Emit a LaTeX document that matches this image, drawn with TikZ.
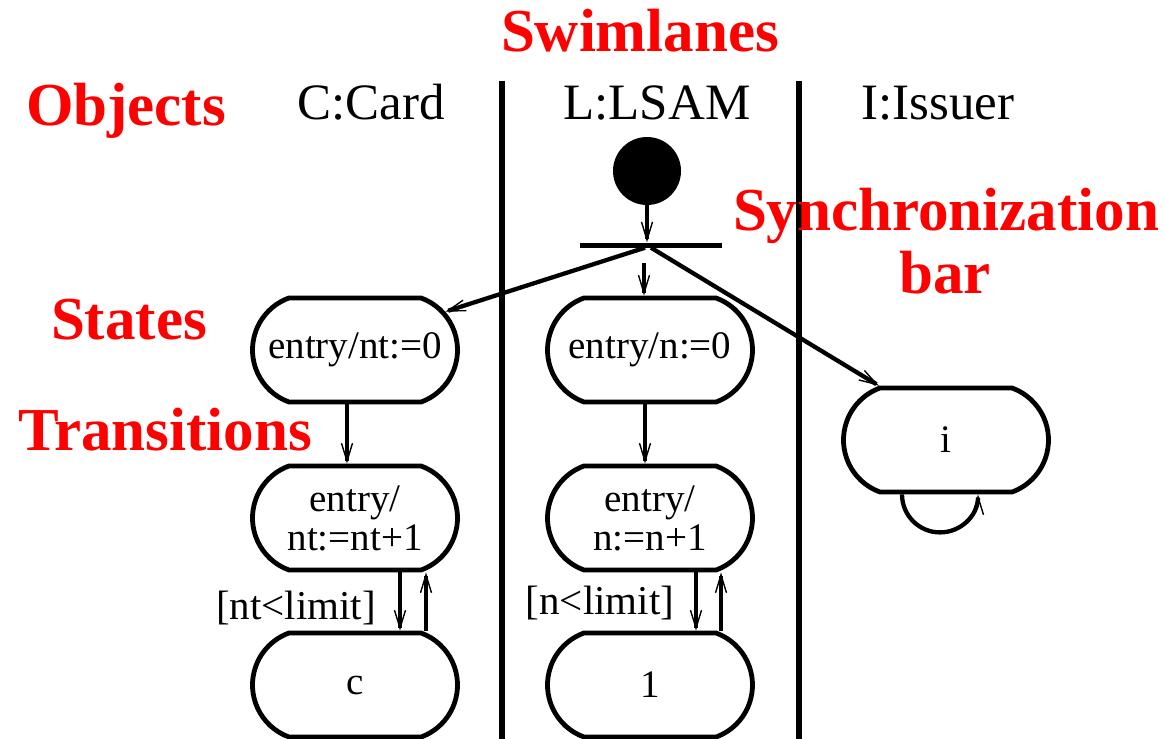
\documentclass[tikz,border=0pt]{standalone}
\usepackage{fontspec}
\setmainfont{Liberation Serif}
\usetikzlibrary{shapes.misc,arrows.meta}
\begin{document}
\begin{tikzpicture}[x=1pt,y=-1pt,
  state/.style={rounded rectangle, rounded rectangle arc length=140, draw, line width=4.8pt,
    minimum width=205pt, minimum height=104pt, inner sep=0pt,
    font=\fontsize{39}{39}\selectfont, align=center},
  arr/.style={line width=4.3pt, -{Straight Barb[length=18pt,width=11pt,line width=1.4pt]}},
  lane/.style={line width=5.5pt},
  redlbl/.style={text=red, font=\fontsize{61}{61}\selectfont\bfseries, anchor=base, inner sep=0pt},
  objlbl/.style={font=\fontsize{51}{51}\selectfont, anchor=base, inner sep=0pt},
  guard/.style={font=\fontsize{41}{41}\selectfont, anchor=base, inner sep=0pt}
]
\useasboundingbox (0,0) rectangle (1165,739);

% swimlane separators
\draw[lane] (502,81) -- (502,739);
\draw[lane] (799,81) -- (799,739);

% red annotation labels
\node[redlbl] (tSwim) at (640,51) {Swimlanes};
\node[redlbl] (tObj) at (126,125) {Objects};
\node[redlbl] (tSync) at (946,230) {Synchronization};
\node[redlbl] (tBar) at (945,293) {bar};
\node[redlbl] (tStates) at (129,339) {States};
\node[redlbl] (tTrans) at (165,450) {Transitions};

% object names
\node[objlbl] (oC) at (371,119) {C:Card};
\node[objlbl] (oL) at (657,119) {L:LSAM};
\node[objlbl] (oI) at (938,119) {I:Issuer};

% initial state and sync bar
\node[circle, fill=black, minimum size=68pt, inner sep=0pt] (init) at (647,171) {};
\node[rectangle, fill=black, minimum width=142pt, minimum height=5pt, inner sep=0pt] (bar) at (651,245) {};

% states
\node[state] (s1) at (355,350) {entry/nt:=0};
\node[state] (s2) at (355,518) {entry/\\nt:=nt+1};
\node[state] (s3) at (355,685) {c};
\node[state] (m1) at (650,350) {entry/n:=0};
\node[state] (m2) at (650,518) {entry/\\n:=n+1};
\node[state] (m3) at (650,685) {1};
\node[state] (iss) at (946,440) {i};

% transitions
\draw[arr] (init.south) -- (init |- bar.north);
\draw[arr] ([xshift=-7pt,yshift=-15pt]bar.south) -- ([xshift=-6pt]m1.north);
\draw[arr] ([xshift=-6pt]bar.south) -- (s1.23);
\draw[arr] (bar.south) -- (iss.141);

\draw[arr] ([xshift=-8pt]s1.south) -- ([xshift=-8pt]s2.north);
\draw[arr] ([xshift=45pt]s2.south) -- ([xshift=45pt]s3.north);
\draw[arr] ([xshift=71pt]s3.north) -- ([xshift=71pt]s2.south);

\draw[arr] ([xshift=-5pt]m1.south) -- ([xshift=-5pt]m2.north);
\draw[arr] ([xshift=46pt]m2.south) -- ([xshift=46pt]m3.north);
\draw[arr] ([xshift=71pt]m3.north) -- ([xshift=71pt]m2.south);

\coordinate (loopA) at ([xshift=-44pt]iss.south);
\draw[arr] (loopA) arc[start angle=180, end angle=360, radius=38pt];

% guards
\node[guard] (g1) at (296,619) {[nt<limit]};
\node[guard] (g2) at (600,614) {[n<limit]};
\end{tikzpicture}
\end{document}
